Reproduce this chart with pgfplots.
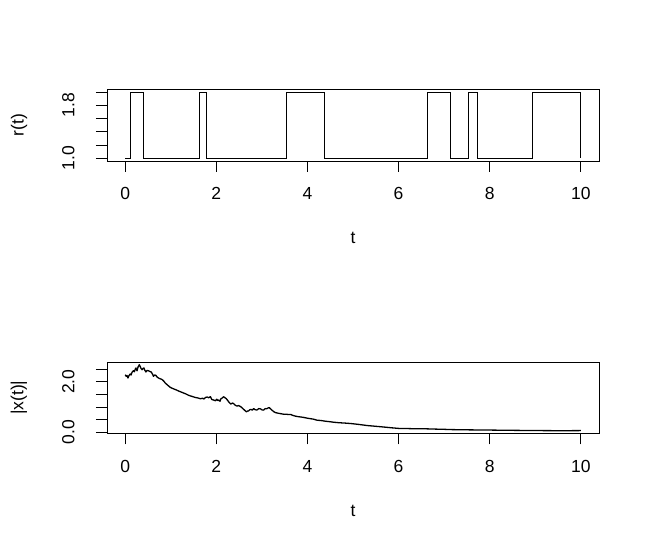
\documentclass[border=0pt]{standalone}
\usepackage{fontspec}
\setmainfont{Liberation Sans}
\usepackage{pgfplots}
\pgfplotsset{compat=1.18}
\newcommand\fs{\fontsize{17.5}{21}\selectfont}
\pgfplotsset{
  rpanel/.style={
    scale only axis, width=492pt, height=71.5pt, anchor=south west,
    xmin=-0.4, xmax=10.4,
    xtick={0,2,4,6,8,10}, xticklabels={0,2,4,6,8,10},
    tick align=outside, major tick length=11pt,
    xtick pos=bottom, ytick pos=left,
    axis line style={line width=0.9pt},
    major tick style={black, line width=0.9pt},
    tick label style={font=\fs},
    xticklabel style={anchor=base},
    xticklabel shift=27.7pt,
    yticklabel style={rotate=90, anchor=base},
    yticklabel shift=21.5pt,
    every axis x label/.style={at={(axis description cs:0.5,0)}, anchor=base, yshift=-83pt, font=\fs},
    every axis y label/.style={at={(axis description cs:-0.1789,0.5)}, rotate=90, anchor=center, font=\fs},
  }
}
\begin{document}
\begin{tikzpicture}
\useasboundingbox (0pt,0pt) rectangle (654pt,545pt);
% top panel: r(t)
\begin{axis}[rpanel, at={(107pt,384pt)},
  ymin=0.96, ymax=2.04,
  ytick={1,1.2,1.4,1.6,1.8,2}, yticklabels={1.0,{},{},{},1.8,{}},
  xlabel={t}, ylabel={r(t)}]
\addplot[const plot, black, line width=1pt] coordinates {
  (0,1) (0.11,2) (0.41,1) (1.63,2) (1.78,1) (3.53,2) (4.38,1)
  (6.63,2) (7.14,1) (7.53,2) (7.73,1) (8.95,2) (10,1)};
\end{axis}
% bottom panel: |x(t)|
\begin{axis}[rpanel, at={(107pt,111.5pt)},
  ymin=-0.045, ymax=2.785,
  ytick={0,0.5,1,1.5,2,2.5}, yticklabels={0.0,{},{},{},2.0,{}},
  xlabel={t}, ylabel={|x(t)|}]
\addplot[black, line width=1.3pt, line join=round] coordinates {
  (0.00,2.28) (0.02,2.22) (0.04,2.25) (0.06,2.15) (0.08,2.24) (0.11,2.31)
  (0.13,2.27) (0.15,2.38) (0.18,2.44) (0.20,2.40) (0.22,2.50) (0.235,2.55)
  (0.25,2.47) (0.26,2.44) (0.28,2.58) (0.31,2.68) (0.33,2.60) (0.35,2.52)
  (0.37,2.48) (0.39,2.53) (0.41,2.55) (0.43,2.46) (0.455,2.39) (0.48,2.45)
  (0.51,2.44) (0.54,2.41) (0.57,2.39) (0.60,2.30) (0.62,2.22) (0.645,2.27)
  (0.67,2.26) (0.70,2.19) (0.73,2.15) (0.77,2.12) (0.81,2.09) (0.85,2.02)
  (0.88,1.95) (0.93,1.87) (0.99,1.78) (1.05,1.73) (1.12,1.68) (1.18,1.63)
  (1.25,1.58) (1.32,1.53) (1.40,1.46) (1.47,1.42) (1.54,1.38) (1.60,1.36)
  (1.65,1.33) (1.70,1.35) (1.73,1.32) (1.76,1.38) (1.80,1.40) (1.83,1.37)
  (1.87,1.41) (1.90,1.30) (1.94,1.28) (1.98,1.25) (2.01,1.31) (2.03,1.26)
  (2.05,1.28) (2.08,1.23) (2.10,1.33) (2.13,1.36) (2.16,1.41) (2.19,1.37)
  (2.22,1.33) (2.25,1.26) (2.27,1.21) (2.30,1.15) (2.32,1.12) (2.35,1.16)
  (2.38,1.14) (2.41,1.08) (2.45,1.04) (2.49,1.06) (2.54,1.01) (2.57,0.96)
  (2.60,0.91) (2.63,0.86) (2.66,0.81) (2.68,0.84) (2.71,0.85) (2.73,0.89)
  (2.76,0.91) (2.79,0.88) (2.82,0.94) (2.85,0.90) (2.89,0.88) (2.93,0.94)
  (2.97,0.93) (3.00,0.89) (3.04,0.88) (3.07,0.94) (3.10,0.93) (3.13,0.96)
  (3.16,0.98) (3.19,0.93) (3.22,0.88) (3.26,0.82) (3.30,0.78) (3.35,0.76)
  (3.41,0.74) (3.47,0.72) (3.52,0.72) (3.57,0.71) (3.63,0.71) (3.68,0.67)
  (3.74,0.64) (3.80,0.62) (3.85,0.61) (3.92,0.59) (4.00,0.56) (4.07,0.54)
  (4.14,0.52) (4.21,0.48) (4.29,0.47) (4.40,0.44) (4.50,0.42) (4.58,0.40)
  (4.70,0.38) (4.80,0.37) (4.95,0.35) (5.10,0.32) (5.31,0.27) (5.50,0.24)
  (5.68,0.21) (5.85,0.18) (6.04,0.15) (6.20,0.15) (6.41,0.14) (6.60,0.14)
  (6.78,0.13) (7.00,0.12) (7.14,0.11) (7.50,0.10) (8.02,0.09) (8.50,0.08)
  (9.12,0.07) (9.60,0.065) (10.00,0.07)};
\end{axis}
\end{tikzpicture}
\end{document}
